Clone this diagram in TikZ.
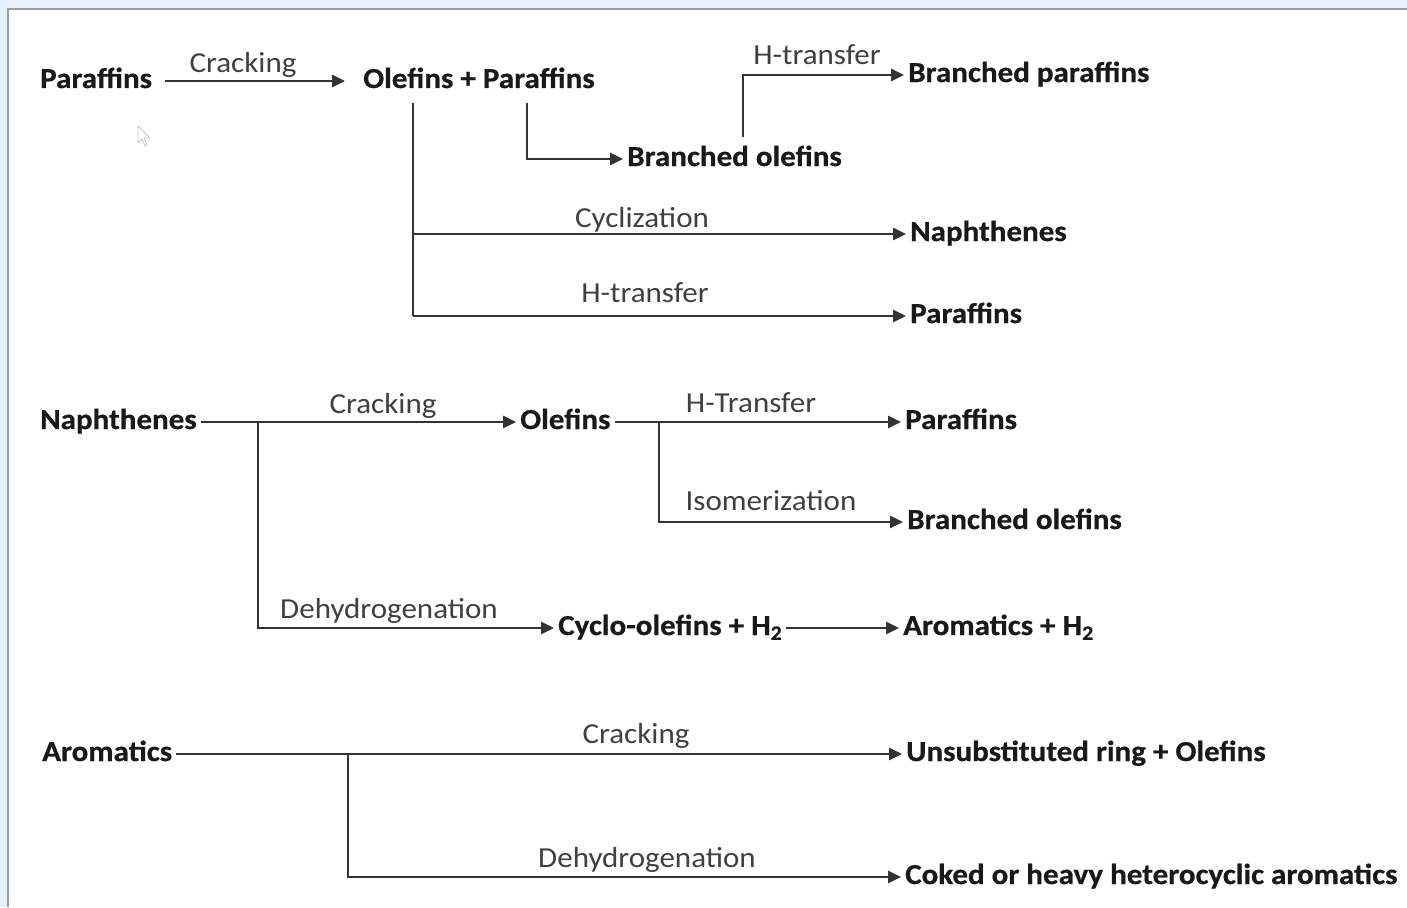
\documentclass[tikz,border=0pt]{standalone}
\usepackage{fontspec}
\setmainfont{Carlito}[FakeStretch=1.07, BoldFeatures={FakeBold=0.6}]
\usetikzlibrary{arrows.meta}
\definecolor{bgblue}{HTML}{E6F2FB}
\definecolor{frame}{HTML}{9A9EA3}
\definecolor{linec}{HTML}{333333}
\definecolor{labc}{HTML}{404040}
\tikzset{
  chem/.style={anchor=west, inner xsep=4pt, inner ysep=0pt, text height=18pt, text depth=4pt, font=\fontsize{29}{32}\selectfont\bfseries, text=black!90},
  lab/.style={anchor=base, inner sep=0pt, font=\fontsize{29}{32}\selectfont, text=labc},
  conn/.style={line width=2.8pt, draw=linec},
  arr/.style={conn, -{Triangle[length=13pt,width=12pt]}},
}
\begin{document}
\begin{tikzpicture}[x=1pt,y=-1pt]
\useasboundingbox (0,0) rectangle (1407,907);
\fill[bgblue] (0,0) rectangle (1407,907);
\fill[white] (8,9) rectangle (1407,907);
\draw[frame, line width=1.2pt] (8,907) -- (8,9) -- (1407,9);
% cursor
\draw[gray!45, line width=0.8pt, line join=round] (138,126) -- (138,143) -- (142,139) -- (145,146) -- (147,145) -- (144,138) -- (150,138) -- cycle;

% ---------- Row 1 ----------
\node[chem] (par1) at (36,81) {Paraffins};
\node[chem] (olp) at (359,81) {Olefins + Paraffins};
\node[chem] (bpar) at (904,75) {Branched paraffins};
\node[chem] (bol1) at (623,159) {Branched olefins};
\node[chem] (nap1) at (906,234) {Naphthenes};
\node[chem] (par2) at (906,316) {Paraffins};

\coordinate (v1top) at (413,103);
\coordinate (v1a) at (413,234);
\coordinate (v1b) at (413,316);
\coordinate (v2top) at (527,103);
\coordinate (v2b) at (527,159);
\coordinate (v3bot) at (743,137);
\coordinate (v3t) at (743,75);

\draw[arr] ([xshift=9pt]par1.east) -- ([xshift=-14pt]olp.west);
\node[lab] (l1) at (243,73) {Cracking};
\draw[conn] (v1top) -- (v1b);
\draw[arr] (v1a) -- (nap1.west);
\draw[arr] (v1b) -- (par2.west);
\draw[arr] (v2top) -- (v2b) -- (bol1.west);
\draw[arr] (v3bot) -- (v3t) -- (bpar.west);
\node[lab] (l2) at (817,65) {H-transfer};
\node[lab] (l3) at (642,227) {Cyclization};
\node[lab] (l4) at (645,302) {H-transfer};

% ---------- Row 2 ----------
\node[chem] (nap2) at (36,422) {Naphthenes};
\node[chem] (ol2) at (516,422) {Olefins};
\node[chem] (par3) at (901,422) {Paraffins};
\node[chem] (bol2) at (903,522) {Branched olefins};
\node[chem] (cyc) at (554,628) {Cyclo-olefins + H\textsubscript{2}};
\node[chem] (aro2) at (899,628) {Aromatics + H\textsubscript{2}};

\coordinate (n2b) at (258,422);
\coordinate (n2c) at (258,628);
\coordinate (o2b) at (659,422);
\coordinate (o2c) at (659,522);

\draw[arr] (nap2.east) -- (ol2.west);
\draw[arr] (ol2.east) -- (par3.west);
\draw[arr] (n2b) -- (n2c) -- (cyc.west);
\draw[arr] (o2b) -- (o2c) -- (bol2.west);
\draw[arr] (cyc.east) -- (aro2.west);
\node[lab] (l5) at (383,413) {Cracking};
\node[lab] (l6) at (751,412) {H-Transfer};
\node[lab] (l7) at (771,510) {Isomerization};
\node[lab] (l8) at (389,618) {Dehydrogenation};

% ---------- Row 3 ----------
\node[chem] (aro3) at (38,754) {Aromatics};
\node[chem] (uns) at (902,754) {Unsubstituted ring + Olefins};
\node[chem] (cok) at (901,877) {Coked or heavy heterocyclic aromatics};

\coordinate (a3b) at (348,754);
\coordinate (a3c) at (348,877);
\draw[arr] (aro3.east) -- (uns.west);
\draw[arr] (a3b) -- (a3c) -- (cok.west);
\node[lab] (l9) at (636,743) {Cracking};
\node[lab] (l10) at (647,867) {Dehydrogenation};
\end{tikzpicture}
\end{document}
